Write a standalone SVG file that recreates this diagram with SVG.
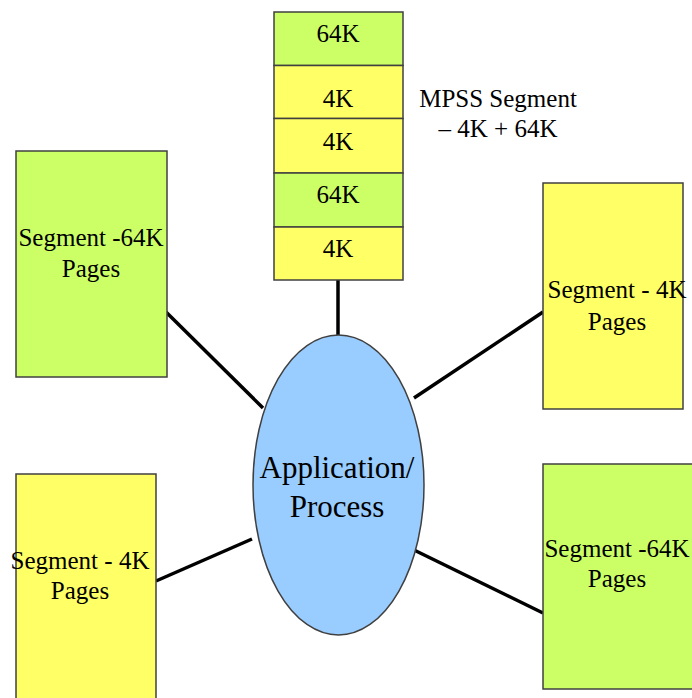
<svg xmlns="http://www.w3.org/2000/svg" width="692" height="698" viewBox="0 0 692 698">
<style>
.g{fill:#CCFF66;stroke:#404040;stroke-width:1.5}
.y{fill:#FFFF66;stroke:#404040;stroke-width:1.5}
.t{font-family:'Liberation Serif','DejaVu Serif','Times New Roman',serif;font-size:25px;fill:#000;text-anchor:middle}
.a{font-size:31px}
.c{stroke:#000;stroke-width:3.5;fill:none}
</style>
<rect width="692" height="698" fill="#fff"/>
<g id="connectors">
<line class="c" x1="338" y1="280" x2="338" y2="336"/>
<line class="c" x1="166" y1="312" x2="263" y2="408"/>
<line class="c" x1="543" y1="312" x2="414" y2="398"/>
<line class="c" x1="156" y1="581" x2="252" y2="539"/>
<line class="c" x1="414" y1="550" x2="543" y2="613"/>
</g>
<g id="mpss">
<rect class="g" x="274" y="12" width="129" height="53.5"/>
<rect class="y" x="274" y="65.5" width="129" height="53"/>
<rect class="y" x="274" y="118.5" width="129" height="54.5"/>
<rect class="g" x="274" y="173" width="129" height="54"/>
<rect class="y" x="274" y="227" width="129" height="53"/>
<text class="t" x="338" y="42">64K</text>
<text class="t" x="338" y="107">4K</text>
<text class="t" x="338" y="150">4K</text>
<text class="t" x="338" y="203">64K</text>
<text class="t" x="338" y="257">4K</text>
</g>
<g id="mpss-label">
<text class="t" x="498" y="107">MPSS Segment</text>
<text class="t" x="498" y="137">– 4K + 64K</text>
</g>
<g id="seg-top-left">
<rect class="g" x="16" y="151" width="151" height="226"/>
<text class="t" x="91" y="246">Segment -64K</text>
<text class="t" x="91" y="277">Pages</text>
</g>
<g id="seg-top-right">
<rect class="y" x="543" y="183" width="140" height="226"/>
<text class="t" x="617" y="298">Segment - 4K</text>
<text class="t" x="617" y="330">Pages</text>
</g>
<g id="seg-bottom-left">
<rect class="y" x="16" y="474" width="140" height="230"/>
<text class="t" x="80" y="569">Segment - 4K</text>
<text class="t" x="80" y="599">Pages</text>
</g>
<g id="seg-bottom-right">
<rect class="g" x="543" y="464" width="152" height="225"/>
<text class="t" x="617" y="557">Segment -64K</text>
<text class="t" x="617" y="587">Pages</text>
</g>
<g id="app">
<ellipse cx="338.5" cy="485" rx="85.5" ry="150" fill="#99CCFF" stroke="#404040" stroke-width="1.5"/>
<text class="t a" x="337" y="478">Application/</text>
<text class="t a" x="337" y="517">Process</text>
</g>
</svg>
